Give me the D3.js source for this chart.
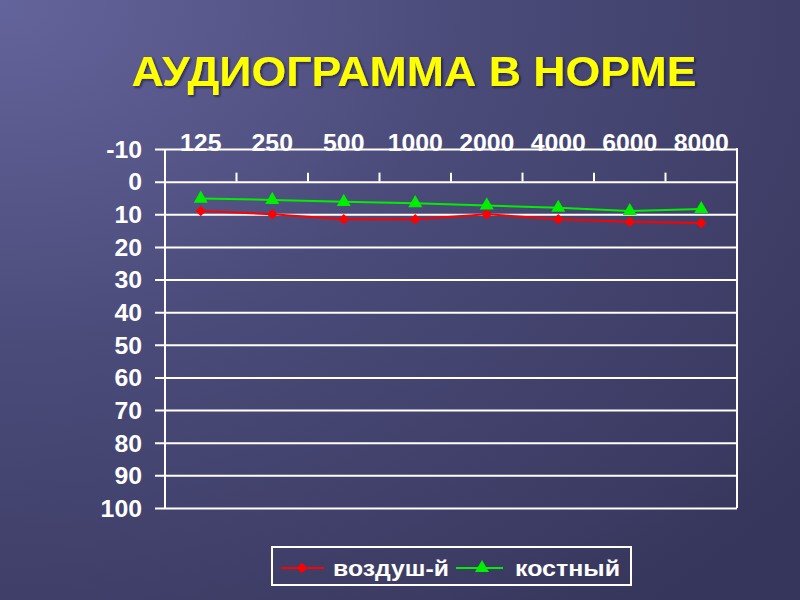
<!DOCTYPE html>
<html><head><meta charset="utf-8">
<script src="https://cdn.jsdelivr.net/npm/d3@7"></script>
<style>html,body{margin:0;padding:0;background:#45456f;}svg{display:block;}</style>
</head><body>
<script>
const title = "АУДИОГРАММА В НОРМЕ";
const freqs = ["125","250","500","1000","2000","4000","6000","8000"];
const airValues = [9, 10, 11.5, 11.5, 10, 11.5, 12.3, 12.7];
const boneValues = [5.2, 5.6, 6.2, 6.6, 7.3, 8, 9, 8.4];
const yTicks = [-10,0,10,20,30,40,50,60,70,80,90,100];
const seriesNames = ["воздуш-й","костный"];

(function(){
const W = 800, H = 600;
const FONT = "Liberation Sans, Arial, sans-serif";
const svg = d3.select("body").append("svg").attr("width", W).attr("height", H);
const defs = svg.append("defs");
const grad = defs.append("radialGradient").attr("id","bg").attr("cx","0%").attr("cy","0%").attr("r","130%");
grad.append("stop").attr("offset","0%").attr("stop-color","#64649c");
grad.append("stop").attr("offset","45%").attr("stop-color","#4b4b7a");
grad.append("stop").attr("offset","100%").attr("stop-color","#36365c");
svg.append("rect").attr("width",W).attr("height",H).attr("fill","url(#bg)");
const f = defs.append("filter").attr("id","sh").attr("x","-5%").attr("y","-5%").attr("width","110%").attr("height","120%");
f.append("feDropShadow").attr("dx",1.5).attr("dy",1.5).attr("stdDeviation",1).attr("flood-color","#111133").attr("flood-opacity",0.7);

const pL = 165, pR = 737, pT = 149, pB = 508;
const x = d3.scaleBand().domain(freqs).range([pL, pR]);
const y = d3.scaleLinear().domain([-10, 100]).range([pT, pB]);

// title
svg.append("text").attr("x", 414).attr("y", 86).attr("text-anchor","middle")
  .attr("font-family",FONT).attr("font-weight","bold")
  .attr("font-size",43).attr("fill","#ffff00").attr("filter","url(#sh)")
  .attr("textLength", 565).attr("lengthAdjust","spacingAndGlyphs").text(title);

// y axis with gridlines
const yAxis = d3.axisLeft(y).tickValues(yTicks).tickSize(pR - 155).tickPadding(13).tickFormat(d => String(d));
const gy = svg.append("g").attr("transform", `translate(${pR},0)`).call(yAxis);
gy.select(".domain").remove();
gy.selectAll(".tick line").attr("stroke","#ffffff").attr("stroke-width",2);
gy.selectAll(".tick text").attr("fill","#ffffff").attr("font-family",FONT)
  .attr("font-weight","bold").attr("font-size",23).attr("dy","0.36em")
  .attr("transform","scale(1.08,1)").attr("x", -13/1.08 - (pR-155)/1.08);

// plot borders
svg.append("line").attr("x1",pL).attr("x2",pL).attr("y1",pT).attr("y2",pB).attr("stroke","#fff").attr("stroke-width",2);
svg.append("line").attr("x1",pR).attr("x2",pR).attr("y1",pT-1).attr("y2",pB).attr("stroke","#fff").attr("stroke-width",2);

// x axis (category) at 0 line, labels at top
const xAxis = d3.axisTop(x).tickSize(0).tickPadding(y(0) - 151);
const gx = svg.append("g").attr("transform", `translate(0,${y(0)})`).call(xAxis);
gx.select(".domain").remove();
gx.selectAll(".tick text").attr("fill","#ffffff").attr("font-family",FONT)
  .attr("font-weight","bold").attr("font-size",23).attr("transform","scale(1.08,1)");
svg.append("g").selectAll("line").data(freqs.slice(1)).join("line")
  .attr("x1", d => x(d)).attr("x2", d => x(d)).attr("y1", y(0) - 9).attr("y2", y(0))
  .attr("stroke","#fff").attr("stroke-width",2);

// lines
const cx = d => x(d) + x.bandwidth()/2;
const line = d3.line().x((d,i) => cx(freqs[i])).y(d => y(d));
svg.append("path").datum(airValues).attr("d", line).attr("fill","none").attr("stroke","#ff0000").attr("stroke-width",2);
svg.append("path").datum(boneValues).attr("d", line).attr("fill","none").attr("stroke","#00ee00").attr("stroke-width",2);
const sq = d3.symbol().type(d3.symbolSquare).size(56);
const tri = d3.symbol().type(d3.symbolTriangle).size(85);
svg.append("g").selectAll("path").data(airValues).join("path")
  .attr("d", sq).attr("transform",(d,i)=>`translate(${cx(freqs[i])},${y(d)}) rotate(45)`).attr("fill","#ff0000");
svg.append("g").selectAll("path").data(boneValues).join("path")
  .attr("d", tri).attr("transform",(d,i)=>`translate(${cx(freqs[i])},${y(d)})`).attr("fill","#00ee00");

// legend
const lg = svg.append("g");
lg.append("rect").attr("x",272).attr("y",547).attr("width",359).attr("height",38).attr("fill","none").attr("stroke","#fff").attr("stroke-width",2);
const ly = 568;
lg.append("line").attr("x1",281).attr("x2",324).attr("y1",ly).attr("y2",ly).attr("stroke","#ff0000").attr("stroke-width",2);
lg.append("path").attr("d",sq).attr("transform",`translate(302,${ly}) rotate(45)`).attr("fill","#ff0000");
lg.append("text").attr("x",333).attr("y",ly+8).attr("textLength",116).text(seriesNames[0]);
lg.append("line").attr("x1",456).attr("x2",503).attr("y1",ly).attr("y2",ly).attr("stroke","#00ee00").attr("stroke-width",2);
lg.append("path").attr("d",tri).attr("transform",`translate(482,${ly})`).attr("fill","#00ee00");
lg.append("text").attr("x",515).attr("y",ly+8).attr("textLength",105).text(seriesNames[1]);
lg.selectAll("text").attr("fill","#fff").attr("font-family",FONT).attr("font-weight","bold")
  .attr("font-size",22).attr("lengthAdjust","spacingAndGlyphs");
})();
</script>
</body></html>
